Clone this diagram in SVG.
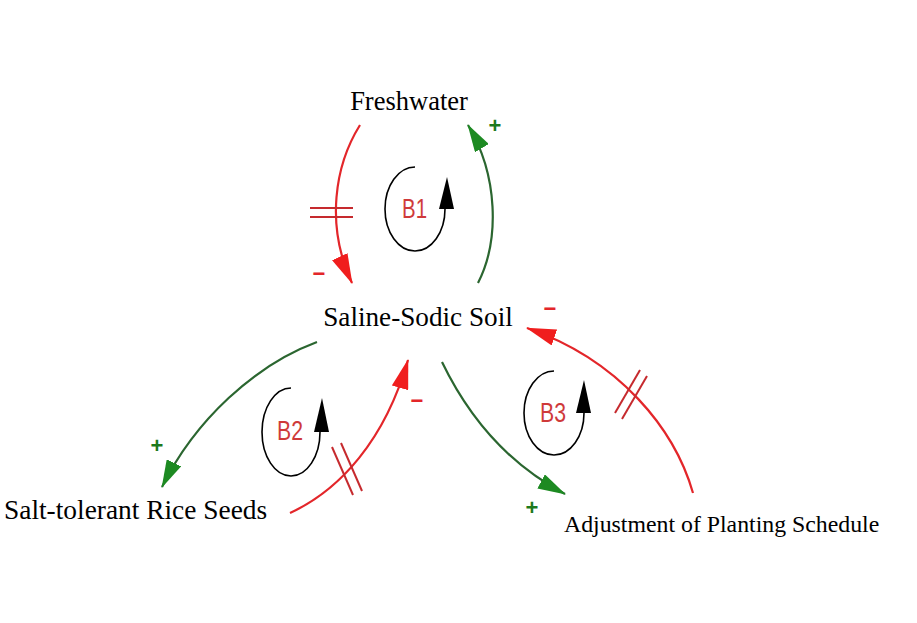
<svg xmlns="http://www.w3.org/2000/svg" width="917" height="623" viewBox="0 0 917 623">
<style>
.lbl{font-family:"Liberation Serif","Times New Roman",serif;fill:#000}
.red{fill:none;stroke:#e3262a;stroke-width:2.2}
.grn{fill:none;stroke:#2b6630;stroke-width:2.2}
.hash{stroke:#c62a2e;stroke-width:2}
.loop{fill:none;stroke:#000;stroke-width:1.6}
.bl{font-family:"Liberation Sans",Arial,sans-serif;font-size:27px;fill:#cf3a3a;text-anchor:middle}
.pl{font-family:"Liberation Sans",Arial,sans-serif;font-size:22px;font-weight:bold;fill:#1d7a1d;text-anchor:middle}
.mi{font-family:"Liberation Sans",Arial,sans-serif;font-size:22px;font-weight:bold;fill:#e3262a;text-anchor:middle}
</style>
<defs>
<marker id="ahR" markerUnits="userSpaceOnUse" viewBox="0 0 30 17" refX="29" refY="8.5" markerWidth="30" markerHeight="17" orient="auto"><path d="M0,0 L30,8.5 L0,17 z" fill="#f01e1e"/></marker>
<marker id="ahG" markerUnits="userSpaceOnUse" viewBox="0 0 28 16" refX="27" refY="8" markerWidth="28" markerHeight="16" orient="auto"><path d="M0,0 L28,8 L0,16 z" fill="#1d8a22"/></marker>
</defs>
<rect width="917" height="623" fill="#fff"/>
<g id="freshwater"><text class="lbl" x="409" y="110" font-size="26.5" text-anchor="middle">Freshwater</text></g>
<g id="soil"><text class="lbl" x="418" y="326" font-size="27.2" text-anchor="middle">Saline-Sodic Soil</text></g>
<g id="seeds"><text class="lbl" x="4" y="519" font-size="27.4">Salt-tolerant Rice Seeds</text></g>
<g id="schedule"><text class="lbl" x="564" y="532" font-size="23.8">Adjustment of Planting Schedule</text></g>
<g id="connectors">
<path class="red" d="M360,125 C335,165 325,225 352,283" marker-end="url(#ahR)"/>
<line class="hash" x1="310" y1="208" x2="353" y2="208"/><line class="hash" x1="310" y1="217" x2="353" y2="217"/>
<text class="mi" x="319" y="281">−</text>
<path class="grn" d="M478,283 C500,240 498,175 468,125" marker-end="url(#ahG)"/>
<text class="pl" x="495" y="133">+</text>
<path class="grn" d="M317,342 C255,365 195,420 162,487" marker-end="url(#ahG)"/>
<text class="pl" x="157" y="453">+</text>
<path class="red" d="M290,513 C340,490 385,440 408,360" marker-end="url(#ahR)"/>
<line class="hash" x1="332" y1="447" x2="353" y2="495"/><line class="hash" x1="341" y1="443" x2="362" y2="491"/>
<text class="mi" x="417" y="408">−</text>
<path class="grn" d="M442,362 C470,420 510,465 565,494" marker-end="url(#ahG)"/>
<text class="pl" x="532" y="515">+</text>
<path class="red" d="M693,493 C675,430 620,360 527,328" marker-end="url(#ahR)"/>
<line class="hash" x1="615" y1="413" x2="640" y2="370"/><line class="hash" x1="622" y1="419" x2="647" y2="376"/>
<text class="mi" x="550" y="316">−</text>
</g>
<g id="loopB1">
<path class="loop" d="M415,167 A30,42 0 1 0 445,209"/>
<polygon points="447,177 439,209 454,209" fill="#000"/>
<text class="bl" x="414.5" y="218" textLength="25" lengthAdjust="spacingAndGlyphs">B1</text>
</g>
<g id="loopB2">
<path class="loop" d="M291,388 A29,44 0 1 0 320,432"/>
<polygon points="322,398 314,432 329,432" fill="#000"/>
<text class="bl" x="290" y="440" textLength="26" lengthAdjust="spacingAndGlyphs">B2</text>
</g>
<g id="loopB3">
<path class="loop" d="M554,371 A30,42 0 1 0 584,413"/>
<polygon points="584,380 576,413 591,413" fill="#000"/>
<text class="bl" x="553" y="422" textLength="26" lengthAdjust="spacingAndGlyphs">B3</text>
</g>
</svg>
